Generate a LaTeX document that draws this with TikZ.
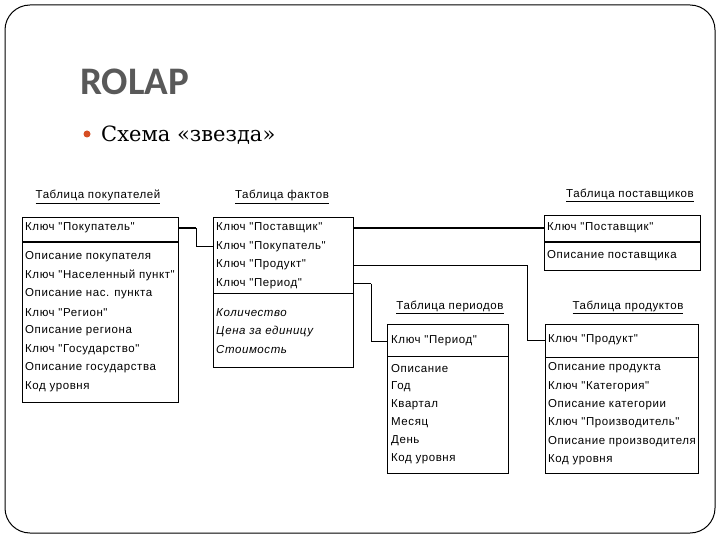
\documentclass[tikz,border=0pt]{standalone}
\usepackage{fontspec}
\setmainfont{DejaVu Serif}
\newfontfamily\titlefont{Carlito}
\newfontfamily\tblfont[LetterSpace=5]{Liberation Sans}
\usepackage{tikz}

\definecolor{titlegray}{RGB}{89,89,89}
\definecolor{bulletred}{RGB}{214,78,36}

\begin{document}
\begin{tikzpicture}[x=1pt,y=-1pt,
	tbl/.style={draw=black, line width=1pt, inner sep=0pt, anchor=north west},
	row/.style={anchor=west, inner sep=0pt, font=\tblfont\fontsize{11.5}{13}\selectfont},
	head/.style={anchor=base, inner sep=0pt, font=\tblfont\fontsize{11.5}{13}\selectfont},
	link/.style={line width=0.8pt},
	boldlink/.style={line width=1.8pt}]
	
	\useasboundingbox (0,0) rectangle (720,540);
	\draw[line width=1pt, rounded corners=25] (5,5) rectangle (715,533);
	
	\node[anchor=base west, inner sep=0pt, text=titlegray, font=\titlefont\bfseries\fontsize{39}{44}\selectfont] (title) at (80,95) {ROLAP};
	\node[circle, fill=bulletred, minimum size=7, inner sep=0pt] (dot) at (87,134) {};
	\node[anchor=base west, inner sep=0pt, font=\fontsize{21}{25}\selectfont] (scheme) at (101,142) {Схема «звезда»};
	
	% table boxes
	\node[tbl, line width=1.4pt, minimum width=156, minimum height=185] (buyer) at (22,217) {};
	\node[tbl, minimum width=140, minimum height=150] (fact) at (213,217) {};
	\node[tbl, line width=1.2pt, minimum width=156, minimum height=55] (sup) at (544,215) {};
	\node[tbl, minimum width=121, minimum height=149] (per) at (387,324) {};
	\node[tbl, minimum width=153, minimum height=149] (prod) at (545,324) {};
	
	\draw[line width=1.6pt] (buyer.north west) ++(0,25) -- ++(156,0);
	\draw[line width=0.8pt] (fact.north west) ++(0,76) -- ++(140,0);
	\draw[line width=1.6pt] (sup.north west) ++(0,27) -- ++(156,0);
	\draw[line width=0.8pt] (per.north west) ++(0,32) -- ++(121,0);
	\draw[line width=0.8pt] (prod.north west) ++(0,33) -- ++(153,0);
	
	% headings
	\node[head] (hbuyer) at (98,199) {\underline{Таблица покупателей}};
	\node[head] (hfact) at (282,199) {\underline{Таблица фактов}};
	\node[head] (hsup) at (630,198) {\underline{Таблица поставщиков}};
	\node[head] (hper) at (450,309) {\underline{Таблица периодов}};
	\node[head] (hprod) at (628,309) {\underline{Таблица продуктов}};
	
	% buyers
	\node[row] (bkey) at (25,228) {Ключ "Покупатель"};
	\foreach \txt [count=\i] in {Описание покупателя, Ключ "Населенный пункт", Описание нас. пункта, Ключ "Регион", Описание региона, Ключ "Государство", Описание государства, Код уровня}
		\node[row] (buyer-\i) at (25,238.5+18.5*\i) {\txt};
	
	% facts
	\node[row] (fsup) at (216,228) {Ключ "Поставщик"};
	\node[row] (fbuy) at (216,246.5) {Ключ "Покупатель"};
	\node[row] (fprod) at (216,265) {Ключ "Продукт"};
	\node[row] (fper) at (216,283.5) {Ключ "Период"};
	\foreach \txt [count=\i] in {Количество, Цена за единицу, Стоимость}
		\node[row, font=\tblfont\itshape\fontsize{11.5}{13}\selectfont] (fact-\i) at (216,294.5+18.5*\i) {\txt};
	
	% suppliers
	\node[row] (skey) at (547,228) {Ключ "Поставщик"};
	\node[row] (sup-1) at (547,256) {Описание поставщика};
	
	% periods
	\node[row] (perkey) at (391,341) {Ключ "Период"};
	\foreach \txt [count=\i] in {Описание, Год, Квартал, Месяц, День, Код уровня}
		\node[row] (per-\i) at (391,351+18*\i) {\txt};
	
	% products
	\node[row] (pkey) at (548,340) {Ключ "Продукт"};
	\foreach \txt [count=\i] in {Описание продукта, Ключ "Категория", Описание категории, Ключ "Производитель", Описание производителя, Код уровня}
		\node[row] (prod-\i) at (548,349.5+18.4*\i) {\txt};
	
	% links
	\draw[boldlink] (buyer.east |- bkey) -- ++(17,0) coordinate (bj);
	\draw[link] (bj) |- (fact.west |- fbuy);
	\draw[boldlink] (fact.east |- fsup) -- (sup.west |- skey);
	\draw[link] (fact.east |- fprod) -- ++(173,0) |- (prod.west |- pkey);
	\draw[boldlink] (fact.east |- fper) -- ++(17,0) coordinate (pj);
	\draw[link] (pj) |- (per.west |- perkey);
	
\end{tikzpicture}
\end{document}
